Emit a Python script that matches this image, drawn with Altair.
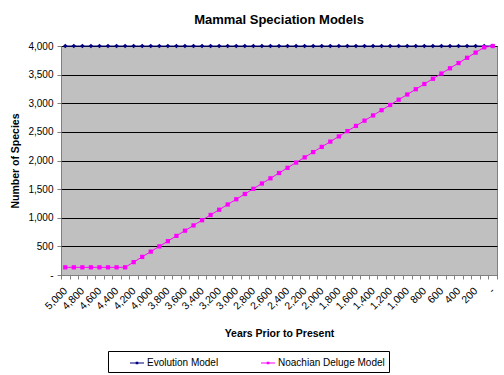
import altair as alt
import pandas as pd

years = [5000, 4900, 4800, 4700, 4600, 4500, 4400, 4300, 4200, 4100,
         4000, 3900, 3800, 3700, 3600, 3500, 3400, 3300, 3200, 3100,
         3000, 2900, 2800, 2700, 2600, 2500, 2400, 2300, 2200, 2100,
         2000, 1900, 1800, 1700, 1600, 1500, 1400, 1300, 1200, 1100,
         1000, 900, 800, 700, 600, 500, 400, 300, 200, 100, 0]

evolution = [4000] * 51

noachian = [134, 134, 134, 134, 134, 134, 134, 134, 225, 317,
            408, 500, 591, 683, 774, 866, 957, 1049, 1140, 1232,
            1323, 1415, 1506, 1598, 1689, 1781, 1872, 1964, 2055, 2147,
            2238, 2330, 2421, 2513, 2604, 2696, 2787, 2879, 2970, 3062,
            3153, 3245, 3336, 3428, 3519, 3611, 3702, 3794, 3885, 3977, 4000]

series_names = ["Evolution Model", "Noachian Deluge Model"]
series_colors = ["#000080", "#FF00FF"]

rows = []
for yr, e, n in zip(years, evolution, noachian):
    rows.append({"year": yr, "series": series_names[0], "value": e})
    rows.append({"year": yr, "series": series_names[1], "value": n})
df = pd.DataFrame(rows)

FONT = "Liberation Sans"

legend = alt.Legend(
    title=None,
    orient="none",
    legendX=47,
    legendY=305,
    direction="horizontal",
    labelFont=FONT,
    labelFontSize=10,
    labelColor="#000000",
    labelExpr="datum.label == 'Noachian Deluge Model' ? datum.label + '\u00a0\u00a0\u00a0\u00a0\u00a0' : datum.label",
    symbolType="M-1,0H1M-0.1,-0.1H0.1V0.1H-0.1Z",
    symbolSize=196,
    symbolStrokeWidth=1.2,
    symbolOpacity=1,
    symbolOffset=17,
    labelOffset=2,
    columnPadding=24,
    padding=4,
    strokeColor="#000000",
    fillColor="#FFFFFF",
)

color = alt.Color("series:N", scale=alt.Scale(domain=series_names, range=series_colors), legend=legend)

x = alt.X(
    "year:O",
    sort="descending",
    scale=alt.Scale(paddingInner=0, paddingOuter=0),
    axis=alt.Axis(
        title="Years Prior to Present",
        titleFont=FONT,
        titleFontSize=10.5,
        titleFontWeight="bold",
        titleColor="#000000",
        titleY=58,
        titleBaseline="middle",
        labelExpr="datum.value % 200 == 0 ? (datum.value == 0 ? '-' : format(datum.value, ',')) : ''",
        labelAngle=-45,
        labelAlign="right",
        labelBaseline="middle",
        labelFont=FONT,
        labelFontSize=10.5,
        labelColor="#000000",
        labelPadding=10,
        labelOverlap=False,
        tickBand="extent",
        tickSize=4,
        tickColor="#808080",
        domainColor="#808080",
        grid=False,
    ),
)

y = alt.Y(
    "value:Q",
    scale=alt.Scale(domain=[0, 4000], nice=False),
    axis=alt.Axis(
        title="Number of Species",
        titleFont=FONT,
        titleFontSize=10.5,
        titleFontWeight="bold",
        titleColor="#000000",
        titlePadding=7,
        values=[0, 500, 1000, 1500, 2000, 2500, 3000, 3500, 4000],
        labelExpr="datum.value == 0 ? '-' : format(datum.value, ',')",
        labelFont=FONT,
        labelFontSize=10,
        labelColor="#000000",
        labelPadding=4,
        tickSize=4,
        tickColor="#808080",
        domain=False,
        grid=True,
        gridColor="#000000",
        gridWidth=1,
    ),
)

lines = alt.Chart(df).mark_line(strokeWidth=1).encode(x=x, y=y, color=color, detail="series:N")

evo_points = alt.Chart(df).transform_filter(
    alt.datum.series == series_names[0]
).mark_point(filled=True, opacity=1, shape="diamond", size=22).encode(x=x, y=y, color=color)

noa_points = alt.Chart(df).transform_filter(
    alt.datum.series == series_names[1]
).mark_point(filled=True, opacity=1, shape="square", size=18).encode(x=x, y=y, color=color)

chart = alt.layer(lines, evo_points, noa_points).properties(
    width=436,
    height=229,
    background="#FFFFFF",
    view=alt.ViewBackground(fill="#C0C0C0", stroke="#808080", strokeWidth=1),
    title=alt.TitleParams(
        "Mammal Speciation Models",
        font=FONT,
        fontSize=13,
        fontWeight="bold",
        color="#000000",
        anchor="middle",
        offset=14,
    ),
    padding={"left": 61, "top": 46, "right": 7, "bottom": 100},
    autosize=alt.AutoSizeParams(type="none"),
)

chart.save("out.html", embed_options={"renderer": "svg", "actions": False})
